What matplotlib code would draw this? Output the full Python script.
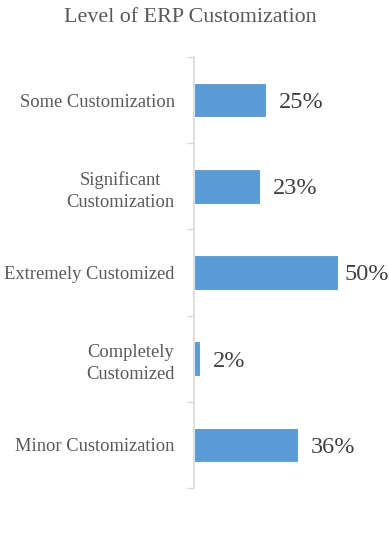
import matplotlib
matplotlib.use("Agg")
import matplotlib.pyplot as plt

# データ（上から順）
categories = ["Some Customization", "Significant\nCustomization", "Extremely Customized",
              "Completely\nCustomized", "Minor Customization"]
values = [25, 23, 50, 2, 36]

plt.rcParams["font.family"] = ["Liberation Serif", "DejaVu Serif"]

W, H = 389, 533
fig = plt.figure(figsize=(W / 100, H / 100), dpi=100)
ax_left, ax_right = 194, 389
ax_top, ax_bot = 57, 488
ax = fig.add_axes([ax_left / W, 1 - ax_bot / H, (ax_right - ax_left) / W, (ax_bot - ax_top) / H])

px_per_pct = 2.88
xmax = (ax_right - ax_left) / px_per_pct
n = len(categories)
pos = list(range(n))

ax.barh(pos, values, height=0.4, color="#5B9BD5", edgecolor="white", linewidth=0.8)
ax.set_xlim(0, xmax)
ax.set_ylim(n - 0.5, -0.5)

# データラベル（右端からはみ出さないように位置を調整）
pad = 13 / px_per_pct
label_w = 45 / px_per_pct
for p, v in zip(pos, values):
    x = min(v + pad, xmax - label_w)
    ax.text(x, p, f"{v}%", ha="left", va="center_baseline", fontsize=17.5, color="#404040")

ax.set_yticks([i - 0.5 for i in range(n + 1)])
ax.set_yticklabels([])
ax.set_yticks(pos, minor=True)
ax.set_yticklabels(categories, minor=True, fontsize=13.3, color="#595959",
                   multialignment="center", linespacing=1.4)
ax.tick_params(axis="y", which="major", length=5, color="#d9d9d9", width=1)
ax.tick_params(axis="y", which="minor", length=0, pad=14)
ax.set_xticks([])

for s in ["top", "right", "bottom"]:
    ax.spines[s].set_visible(False)
ax.spines["left"].set_color("#d9d9d9")
ax.spines["left"].set_linewidth(1.2)

fig.text(190 / W, 1 - 17 / H, "Level of ERP Customization", ha="center", va="center",
         fontsize=15.8, color="#595959")

fig.savefig("out.png", dpi=100)
